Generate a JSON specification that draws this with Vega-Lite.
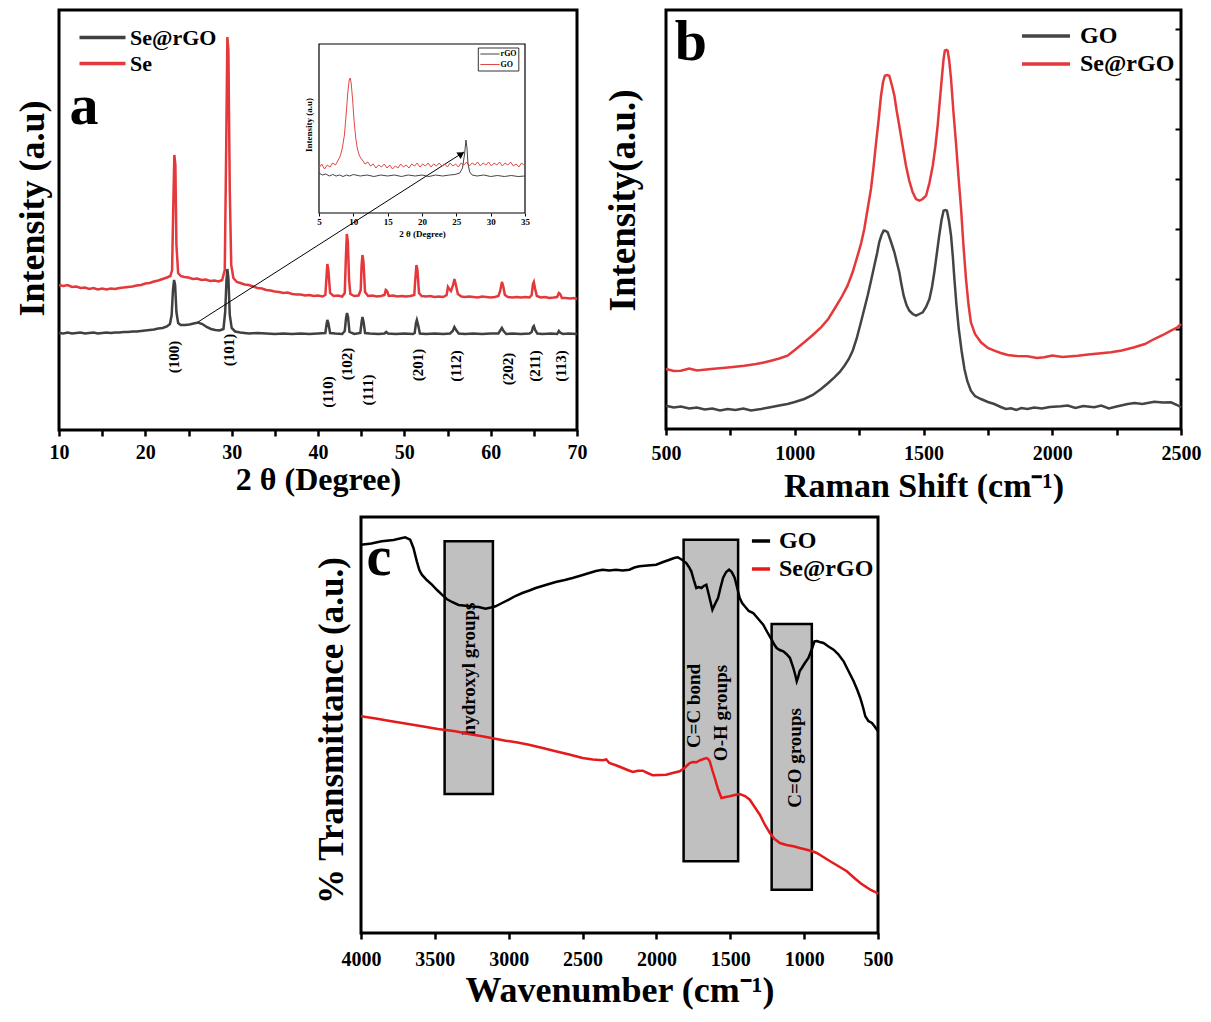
{
  "$schema": "https://vega.github.io/schema/vega-lite/v6.json",
  "padding": {"left": 12, "top": 8, "right": 5, "bottom": 2},
  "spacing": 10,
  "resolve": {"scale": {"color": "independent"}, "legend": {"color": "independent"}},
  "datasets": {
    "xrd": [
      {"theta":10,"intensity":145,"sample":"Se"},{"theta":10.5,"intensity":144,"sample":"Se"},{"theta":11,"intensity":145,"sample":"Se"},{"theta":11.5,"intensity":143,"sample":"Se"},{"theta":12,"intensity":143.5,"sample":"Se"},{"theta":12.5,"intensity":142,"sample":"Se"},{"theta":13,"intensity":142.5,"sample":"Se"},{"theta":13.5,"intensity":141,"sample":"Se"},{"theta":14,"intensity":142,"sample":"Se"},{"theta":14.5,"intensity":140.5,"sample":"Se"},{"theta":15,"intensity":141.5,"sample":"Se"},{"theta":15.5,"intensity":140.5,"sample":"Se"},{"theta":16,"intensity":141.5,"sample":"Se"},{"theta":16.5,"intensity":141,"sample":"Se"},{"theta":17,"intensity":142,"sample":"Se"},{"theta":17.5,"intensity":142.5,"sample":"Se"},{"theta":18,"intensity":143,"sample":"Se"},{"theta":18.5,"intensity":143.5,"sample":"Se"},{"theta":19,"intensity":144.5,"sample":"Se"},{"theta":19.5,"intensity":145,"sample":"Se"},{"theta":20,"intensity":146.5,"sample":"Se"},{"theta":20.5,"intensity":147,"sample":"Se"},{"theta":21,"intensity":148.5,"sample":"Se"},{"theta":21.5,"intensity":149.5,"sample":"Se"},{"theta":22,"intensity":151,"sample":"Se"},{"theta":22.5,"intensity":152.5,"sample":"Se"},{"theta":22.9,"intensity":154,"sample":"Se"},{"theta":23.1,"intensity":160,"sample":"Se"},{"theta":23.25,"intensity":230,"sample":"Se"},{"theta":23.36,"intensity":275,"sample":"Se"},{"theta":23.48,"intensity":265,"sample":"Se"},{"theta":23.6,"intensity":185,"sample":"Se"},{"theta":23.8,"intensity":157,"sample":"Se"},{"theta":24.1,"intensity":154,"sample":"Se"},{"theta":24.5,"intensity":153,"sample":"Se"},{"theta":25,"intensity":152.5,"sample":"Se"},{"theta":25.5,"intensity":151,"sample":"Se"},{"theta":26,"intensity":151.5,"sample":"Se"},{"theta":26.5,"intensity":150,"sample":"Se"},{"theta":27,"intensity":150.5,"sample":"Se"},{"theta":27.5,"intensity":149,"sample":"Se"},{"theta":28,"intensity":149.5,"sample":"Se"},{"theta":28.5,"intensity":148.5,"sample":"Se"},{"theta":28.9,"intensity":150,"sample":"Se"},{"theta":29.2,"intensity":160,"sample":"Se"},{"theta":29.35,"intensity":270,"sample":"Se"},{"theta":29.5,"intensity":393,"sample":"Se"},{"theta":29.62,"intensity":380,"sample":"Se"},{"theta":29.78,"intensity":240,"sample":"Se"},{"theta":29.95,"intensity":165,"sample":"Se"},{"theta":30.2,"intensity":152,"sample":"Se"},{"theta":30.6,"intensity":148,"sample":"Se"},{"theta":31,"intensity":147,"sample":"Se"},{"theta":31.5,"intensity":145.5,"sample":"Se"},{"theta":32,"intensity":145,"sample":"Se"},{"theta":32.5,"intensity":143.5,"sample":"Se"},{"theta":33,"intensity":142,"sample":"Se"},{"theta":33.5,"intensity":141.5,"sample":"Se"},{"theta":34,"intensity":140,"sample":"Se"},{"theta":34.5,"intensity":139.5,"sample":"Se"},{"theta":35,"intensity":138.5,"sample":"Se"},{"theta":35.5,"intensity":138,"sample":"Se"},{"theta":36,"intensity":137,"sample":"Se"},{"theta":36.5,"intensity":137.5,"sample":"Se"},{"theta":37,"intensity":136,"sample":"Se"},{"theta":37.5,"intensity":135.5,"sample":"Se"},{"theta":38,"intensity":135.5,"sample":"Se"},{"theta":38.5,"intensity":134.5,"sample":"Se"},{"theta":39,"intensity":135,"sample":"Se"},{"theta":39.5,"intensity":134,"sample":"Se"},{"theta":40,"intensity":134.5,"sample":"Se"},{"theta":40.5,"intensity":133.5,"sample":"Se"},{"theta":40.85,"intensity":135,"sample":"Se"},{"theta":41.0,"intensity":155,"sample":"Se"},{"theta":41.08,"intensity":166,"sample":"Se"},{"theta":41.2,"intensity":160,"sample":"Se"},{"theta":41.4,"intensity":137,"sample":"Se"},{"theta":41.8,"intensity":134,"sample":"Se"},{"theta":42.3,"intensity":134.5,"sample":"Se"},{"theta":42.8,"intensity":133.5,"sample":"Se"},{"theta":43.1,"intensity":137,"sample":"Se"},{"theta":43.22,"intensity":170,"sample":"Se"},{"theta":43.34,"intensity":196,"sample":"Se"},{"theta":43.46,"intensity":188,"sample":"Se"},{"theta":43.6,"intensity":150,"sample":"Se"},{"theta":43.75,"intensity":136,"sample":"Se"},{"theta":44.2,"intensity":134,"sample":"Se"},{"theta":44.7,"intensity":134.5,"sample":"Se"},{"theta":44.95,"intensity":140,"sample":"Se"},{"theta":45.05,"intensity":165,"sample":"Se"},{"theta":45.15,"intensity":175,"sample":"Se"},{"theta":45.27,"intensity":168,"sample":"Se"},{"theta":45.45,"intensity":138,"sample":"Se"},{"theta":45.8,"intensity":134,"sample":"Se"},{"theta":46.3,"intensity":134.5,"sample":"Se"},{"theta":46.8,"intensity":133.5,"sample":"Se"},{"theta":47.3,"intensity":134,"sample":"Se"},{"theta":47.7,"intensity":135,"sample":"Se"},{"theta":47.85,"intensity":140,"sample":"Se"},{"theta":48.0,"intensity":139,"sample":"Se"},{"theta":48.2,"intensity":134,"sample":"Se"},{"theta":48.7,"intensity":134.5,"sample":"Se"},{"theta":49.2,"intensity":133.5,"sample":"Se"},{"theta":49.7,"intensity":134,"sample":"Se"},{"theta":50.2,"intensity":133.5,"sample":"Se"},{"theta":50.7,"intensity":134,"sample":"Se"},{"theta":51.15,"intensity":135,"sample":"Se"},{"theta":51.28,"intensity":152,"sample":"Se"},{"theta":51.4,"intensity":165,"sample":"Se"},{"theta":51.52,"intensity":160,"sample":"Se"},{"theta":51.7,"intensity":137,"sample":"Se"},{"theta":52,"intensity":134,"sample":"Se"},{"theta":52.5,"intensity":133.5,"sample":"Se"},{"theta":53,"intensity":134,"sample":"Se"},{"theta":53.5,"intensity":133,"sample":"Se"},{"theta":54,"intensity":133.5,"sample":"Se"},{"theta":54.5,"intensity":133,"sample":"Se"},{"theta":54.9,"intensity":135,"sample":"Se"},{"theta":55.05,"intensity":143,"sample":"Se"},{"theta":55.2,"intensity":141,"sample":"Se"},{"theta":55.4,"intensity":139,"sample":"Se"},{"theta":55.65,"intensity":145,"sample":"Se"},{"theta":55.8,"intensity":151,"sample":"Se"},{"theta":55.95,"intensity":146,"sample":"Se"},{"theta":56.2,"intensity":136,"sample":"Se"},{"theta":56.6,"intensity":133.5,"sample":"Se"},{"theta":57,"intensity":133,"sample":"Se"},{"theta":57.5,"intensity":133.5,"sample":"Se"},{"theta":58,"intensity":133,"sample":"Se"},{"theta":58.5,"intensity":132.5,"sample":"Se"},{"theta":59,"intensity":133.5,"sample":"Se"},{"theta":59.5,"intensity":133,"sample":"Se"},{"theta":60,"intensity":132.5,"sample":"Se"},{"theta":60.5,"intensity":133,"sample":"Se"},{"theta":60.9,"intensity":134,"sample":"Se"},{"theta":61.1,"intensity":139,"sample":"Se"},{"theta":61.3,"intensity":148,"sample":"Se"},{"theta":61.45,"intensity":144,"sample":"Se"},{"theta":61.65,"intensity":135,"sample":"Se"},{"theta":62,"intensity":133,"sample":"Se"},{"theta":62.5,"intensity":132.5,"sample":"Se"},{"theta":63,"intensity":133,"sample":"Se"},{"theta":63.5,"intensity":132.5,"sample":"Se"},{"theta":64,"intensity":133,"sample":"Se"},{"theta":64.5,"intensity":132.5,"sample":"Se"},{"theta":64.75,"intensity":135,"sample":"Se"},{"theta":64.9,"intensity":146,"sample":"Se"},{"theta":65.0,"intensity":148,"sample":"Se"},{"theta":65.15,"intensity":141,"sample":"Se"},{"theta":65.35,"intensity":134,"sample":"Se"},{"theta":65.8,"intensity":132.5,"sample":"Se"},{"theta":66.3,"intensity":133,"sample":"Se"},{"theta":66.8,"intensity":132,"sample":"Se"},{"theta":67.3,"intensity":132.5,"sample":"Se"},{"theta":67.7,"intensity":133,"sample":"Se"},{"theta":67.9,"intensity":137,"sample":"Se"},{"theta":68.05,"intensity":136,"sample":"Se"},{"theta":68.25,"intensity":132,"sample":"Se"},{"theta":68.7,"intensity":132,"sample":"Se"},{"theta":69.2,"intensity":131.5,"sample":"Se"},{"theta":69.6,"intensity":132,"sample":"Se"},{"theta":70,"intensity":131,"sample":"Se"},
      {"theta":10,"intensity":97,"sample":"Se@rGO"},{"theta":10.5,"intensity":96.5,"sample":"Se@rGO"},{"theta":11,"intensity":97.5,"sample":"Se@rGO"},{"theta":11.5,"intensity":96.5,"sample":"Se@rGO"},{"theta":12,"intensity":97,"sample":"Se@rGO"},{"theta":12.5,"intensity":97.5,"sample":"Se@rGO"},{"theta":13,"intensity":96.5,"sample":"Se@rGO"},{"theta":13.5,"intensity":97,"sample":"Se@rGO"},{"theta":14,"intensity":97.5,"sample":"Se@rGO"},{"theta":14.5,"intensity":96.5,"sample":"Se@rGO"},{"theta":15,"intensity":97,"sample":"Se@rGO"},{"theta":15.5,"intensity":97.5,"sample":"Se@rGO"},{"theta":16,"intensity":97,"sample":"Se@rGO"},{"theta":16.5,"intensity":97.5,"sample":"Se@rGO"},{"theta":17,"intensity":97.5,"sample":"Se@rGO"},{"theta":17.5,"intensity":98,"sample":"Se@rGO"},{"theta":18,"intensity":98,"sample":"Se@rGO"},{"theta":18.5,"intensity":98.5,"sample":"Se@rGO"},{"theta":19,"intensity":98.5,"sample":"Se@rGO"},{"theta":19.5,"intensity":99,"sample":"Se@rGO"},{"theta":20,"intensity":99.5,"sample":"Se@rGO"},{"theta":20.5,"intensity":100,"sample":"Se@rGO"},{"theta":21,"intensity":100.5,"sample":"Se@rGO"},{"theta":21.5,"intensity":101.5,"sample":"Se@rGO"},{"theta":22,"intensity":102,"sample":"Se@rGO"},{"theta":22.5,"intensity":103.5,"sample":"Se@rGO"},{"theta":22.85,"intensity":106,"sample":"Se@rGO"},{"theta":23.05,"intensity":115,"sample":"Se@rGO"},{"theta":23.2,"intensity":140,"sample":"Se@rGO"},{"theta":23.33,"intensity":150,"sample":"Se@rGO"},{"theta":23.45,"intensity":145,"sample":"Se@rGO"},{"theta":23.6,"intensity":118,"sample":"Se@rGO"},{"theta":23.8,"intensity":107,"sample":"Se@rGO"},{"theta":24.1,"intensity":105,"sample":"Se@rGO"},{"theta":24.6,"intensity":105,"sample":"Se@rGO"},{"theta":25.1,"intensity":105.5,"sample":"Se@rGO"},{"theta":25.6,"intensity":106.5,"sample":"Se@rGO"},{"theta":26.1,"intensity":107.5,"sample":"Se@rGO"},{"theta":26.6,"intensity":106,"sample":"Se@rGO"},{"theta":27.1,"intensity":103,"sample":"Se@rGO"},{"theta":27.6,"intensity":101,"sample":"Se@rGO"},{"theta":28.1,"intensity":100,"sample":"Se@rGO"},{"theta":28.6,"intensity":99.5,"sample":"Se@rGO"},{"theta":29.05,"intensity":101,"sample":"Se@rGO"},{"theta":29.25,"intensity":118,"sample":"Se@rGO"},{"theta":29.4,"intensity":150,"sample":"Se@rGO"},{"theta":29.5,"intensity":161,"sample":"Se@rGO"},{"theta":29.62,"intensity":152,"sample":"Se@rGO"},{"theta":29.78,"intensity":115,"sample":"Se@rGO"},{"theta":30,"intensity":102,"sample":"Se@rGO"},{"theta":30.4,"intensity":98.5,"sample":"Se@rGO"},{"theta":31,"intensity":97.5,"sample":"Se@rGO"},{"theta":31.5,"intensity":97,"sample":"Se@rGO"},{"theta":32,"intensity":96.5,"sample":"Se@rGO"},{"theta":33,"intensity":97,"sample":"Se@rGO"},{"theta":34,"intensity":96.5,"sample":"Se@rGO"},{"theta":35,"intensity":96,"sample":"Se@rGO"},{"theta":36,"intensity":96.5,"sample":"Se@rGO"},{"theta":37,"intensity":96,"sample":"Se@rGO"},{"theta":38,"intensity":96.5,"sample":"Se@rGO"},{"theta":39,"intensity":96,"sample":"Se@rGO"},{"theta":40,"intensity":96.5,"sample":"Se@rGO"},{"theta":40.85,"intensity":97,"sample":"Se@rGO"},{"theta":41.0,"intensity":106,"sample":"Se@rGO"},{"theta":41.08,"intensity":110,"sample":"Se@rGO"},{"theta":41.2,"intensity":107,"sample":"Se@rGO"},{"theta":41.4,"intensity":97,"sample":"Se@rGO"},{"theta":42,"intensity":96.5,"sample":"Se@rGO"},{"theta":42.8,"intensity":96,"sample":"Se@rGO"},{"theta":43.1,"intensity":99,"sample":"Se@rGO"},{"theta":43.25,"intensity":112,"sample":"Se@rGO"},{"theta":43.36,"intensity":117,"sample":"Se@rGO"},{"theta":43.48,"intensity":113,"sample":"Se@rGO"},{"theta":43.65,"intensity":98,"sample":"Se@rGO"},{"theta":44.2,"intensity":96,"sample":"Se@rGO"},{"theta":44.9,"intensity":97,"sample":"Se@rGO"},{"theta":45.05,"intensity":108,"sample":"Se@rGO"},{"theta":45.15,"intensity":113,"sample":"Se@rGO"},{"theta":45.28,"intensity":108,"sample":"Se@rGO"},{"theta":45.45,"intensity":97,"sample":"Se@rGO"},{"theta":46,"intensity":96.5,"sample":"Se@rGO"},{"theta":47,"intensity":96,"sample":"Se@rGO"},{"theta":47.7,"intensity":96.5,"sample":"Se@rGO"},{"theta":47.9,"intensity":98,"sample":"Se@rGO"},{"theta":48.1,"intensity":96.5,"sample":"Se@rGO"},{"theta":49,"intensity":96,"sample":"Se@rGO"},{"theta":50,"intensity":96.5,"sample":"Se@rGO"},{"theta":51,"intensity":96,"sample":"Se@rGO"},{"theta":51.2,"intensity":97,"sample":"Se@rGO"},{"theta":51.35,"intensity":107,"sample":"Se@rGO"},{"theta":51.45,"intensity":110,"sample":"Se@rGO"},{"theta":51.6,"intensity":105,"sample":"Se@rGO"},{"theta":51.8,"intensity":96.5,"sample":"Se@rGO"},{"theta":52.5,"intensity":96,"sample":"Se@rGO"},{"theta":53.5,"intensity":96.5,"sample":"Se@rGO"},{"theta":54.5,"intensity":96,"sample":"Se@rGO"},{"theta":55.3,"intensity":96.5,"sample":"Se@rGO"},{"theta":55.6,"intensity":99,"sample":"Se@rGO"},{"theta":55.8,"intensity":103,"sample":"Se@rGO"},{"theta":56.0,"intensity":100,"sample":"Se@rGO"},{"theta":56.3,"intensity":96.5,"sample":"Se@rGO"},{"theta":57,"intensity":96,"sample":"Se@rGO"},{"theta":58,"intensity":96.5,"sample":"Se@rGO"},{"theta":59,"intensity":96,"sample":"Se@rGO"},{"theta":60,"intensity":96.5,"sample":"Se@rGO"},{"theta":60.9,"intensity":96.5,"sample":"Se@rGO"},{"theta":61.15,"intensity":100,"sample":"Se@rGO"},{"theta":61.3,"intensity":102,"sample":"Se@rGO"},{"theta":61.5,"intensity":99,"sample":"Se@rGO"},{"theta":61.8,"intensity":96,"sample":"Se@rGO"},{"theta":62.5,"intensity":96.5,"sample":"Se@rGO"},{"theta":63.5,"intensity":96,"sample":"Se@rGO"},{"theta":64.5,"intensity":96.5,"sample":"Se@rGO"},{"theta":64.75,"intensity":98,"sample":"Se@rGO"},{"theta":64.9,"intensity":103,"sample":"Se@rGO"},{"theta":65.0,"intensity":104,"sample":"Se@rGO"},{"theta":65.15,"intensity":100,"sample":"Se@rGO"},{"theta":65.4,"intensity":96.5,"sample":"Se@rGO"},{"theta":66,"intensity":96,"sample":"Se@rGO"},{"theta":67,"intensity":96.5,"sample":"Se@rGO"},{"theta":67.7,"intensity":96,"sample":"Se@rGO"},{"theta":67.9,"intensity":99,"sample":"Se@rGO"},{"theta":68.1,"intensity":97,"sample":"Se@rGO"},{"theta":68.4,"intensity":96,"sample":"Se@rGO"},{"theta":69,"intensity":96.5,"sample":"Se@rGO"},{"theta":70,"intensity":96,"sample":"Se@rGO"}
    ],
    "hkl": [
      {"theta":23.3,"intensity":73,"label":"(100)"},{"theta":29.7,"intensity":80,"label":"(101)"},{"theta":41.16,"intensity":38,"label":"(110)"},{"theta":43.36,"intensity":66,"label":"(102)"},{"theta":45.79,"intensity":40,"label":"(111)"},{"theta":51.58,"intensity":65,"label":"(201)"},{"theta":55.98,"intensity":64,"label":"(112)"},{"theta":62.0,"intensity":61,"label":"(202)"},{"theta":65.1,"intensity":64,"label":"(211)"},{"theta":68.15,"intensity":64,"label":"(113)"}
    ],
    "inset": [
      {"theta":5,"intensity":262,"sample":"GO"},{"theta":5.4,"intensity":266,"sample":"GO"},{"theta":5.8,"intensity":261,"sample":"GO"},{"theta":6.2,"intensity":265,"sample":"GO"},{"theta":6.6,"intensity":263,"sample":"GO"},{"theta":7,"intensity":267,"sample":"GO"},{"theta":7.4,"intensity":265,"sample":"GO"},{"theta":7.8,"intensity":270,"sample":"GO"},{"theta":8.1,"intensity":274,"sample":"GO"},{"theta":8.4,"intensity":282,"sample":"GO"},{"theta":8.7,"intensity":295,"sample":"GO"},{"theta":8.95,"intensity":315,"sample":"GO"},{"theta":9.2,"intensity":338,"sample":"GO"},{"theta":9.4,"intensity":350,"sample":"GO"},{"theta":9.55,"intensity":352,"sample":"GO"},{"theta":9.7,"intensity":346,"sample":"GO"},{"theta":9.9,"intensity":330,"sample":"GO"},{"theta":10.1,"intensity":310,"sample":"GO"},{"theta":10.35,"intensity":292,"sample":"GO"},{"theta":10.6,"intensity":281,"sample":"GO"},{"theta":10.9,"intensity":274,"sample":"GO"},{"theta":11.3,"intensity":270,"sample":"GO"},{"theta":11.7,"intensity":266,"sample":"GO"},{"theta":12.1,"intensity":268,"sample":"GO"},{"theta":12.5,"intensity":264,"sample":"GO"},{"theta":12.9,"intensity":266,"sample":"GO"},{"theta":13.3,"intensity":262,"sample":"GO"},{"theta":13.7,"intensity":265,"sample":"GO"},{"theta":14.1,"intensity":263,"sample":"GO"},{"theta":14.5,"intensity":266,"sample":"GO"},{"theta":14.9,"intensity":262,"sample":"GO"},{"theta":15.3,"intensity":265,"sample":"GO"},{"theta":15.7,"intensity":261,"sample":"GO"},{"theta":16.1,"intensity":264,"sample":"GO"},{"theta":16.5,"intensity":262,"sample":"GO"},{"theta":16.9,"intensity":266,"sample":"GO"},{"theta":17.3,"intensity":263,"sample":"GO"},{"theta":17.7,"intensity":265,"sample":"GO"},{"theta":18.1,"intensity":262,"sample":"GO"},{"theta":18.5,"intensity":266,"sample":"GO"},{"theta":18.9,"intensity":264,"sample":"GO"},{"theta":19.3,"intensity":267,"sample":"GO"},{"theta":19.7,"intensity":263,"sample":"GO"},{"theta":20.1,"intensity":266,"sample":"GO"},{"theta":20.5,"intensity":264,"sample":"GO"},{"theta":20.9,"intensity":267,"sample":"GO"},{"theta":21.3,"intensity":263,"sample":"GO"},{"theta":21.7,"intensity":266,"sample":"GO"},{"theta":22.1,"intensity":264,"sample":"GO"},{"theta":22.5,"intensity":267,"sample":"GO"},{"theta":22.9,"intensity":264,"sample":"GO"},{"theta":23.3,"intensity":266,"sample":"GO"},{"theta":23.7,"intensity":263,"sample":"GO"},{"theta":24.1,"intensity":267,"sample":"GO"},{"theta":24.5,"intensity":264,"sample":"GO"},{"theta":24.9,"intensity":266,"sample":"GO"},{"theta":25.3,"intensity":263,"sample":"GO"},{"theta":25.7,"intensity":267,"sample":"GO"},{"theta":26.1,"intensity":265,"sample":"GO"},{"theta":26.5,"intensity":268,"sample":"GO"},{"theta":26.9,"intensity":264,"sample":"GO"},{"theta":27.3,"intensity":267,"sample":"GO"},{"theta":27.7,"intensity":265,"sample":"GO"},{"theta":28.1,"intensity":268,"sample":"GO"},{"theta":28.5,"intensity":264,"sample":"GO"},{"theta":28.9,"intensity":267,"sample":"GO"},{"theta":29.3,"intensity":265,"sample":"GO"},{"theta":29.7,"intensity":268,"sample":"GO"},{"theta":30.1,"intensity":264,"sample":"GO"},{"theta":30.5,"intensity":267,"sample":"GO"},{"theta":30.9,"intensity":265,"sample":"GO"},{"theta":31.3,"intensity":268,"sample":"GO"},{"theta":31.7,"intensity":264,"sample":"GO"},{"theta":32.1,"intensity":267,"sample":"GO"},{"theta":32.5,"intensity":265,"sample":"GO"},{"theta":32.9,"intensity":268,"sample":"GO"},{"theta":33.3,"intensity":264,"sample":"GO"},{"theta":33.7,"intensity":266,"sample":"GO"},{"theta":34.1,"intensity":263,"sample":"GO"},{"theta":34.5,"intensity":267,"sample":"GO"},{"theta":35,"intensity":264,"sample":"GO"},
      {"theta":5,"intensity":257,"sample":"rGO"},{"theta":5.5,"intensity":255,"sample":"rGO"},{"theta":6,"intensity":256,"sample":"rGO"},{"theta":6.5,"intensity":254,"sample":"rGO"},{"theta":7,"intensity":255.5,"sample":"rGO"},{"theta":7.5,"intensity":254,"sample":"rGO"},{"theta":8,"intensity":255,"sample":"rGO"},{"theta":8.5,"intensity":253.5,"sample":"rGO"},{"theta":9,"intensity":255,"sample":"rGO"},{"theta":9.5,"intensity":254,"sample":"rGO"},{"theta":10,"intensity":255.5,"sample":"rGO"},{"theta":11,"intensity":254,"sample":"rGO"},{"theta":12,"intensity":255,"sample":"rGO"},{"theta":13,"intensity":253.5,"sample":"rGO"},{"theta":14,"intensity":255,"sample":"rGO"},{"theta":15,"intensity":254,"sample":"rGO"},{"theta":16,"intensity":255,"sample":"rGO"},{"theta":17,"intensity":253.5,"sample":"rGO"},{"theta":18,"intensity":255,"sample":"rGO"},{"theta":19,"intensity":254,"sample":"rGO"},{"theta":20,"intensity":255,"sample":"rGO"},{"theta":21,"intensity":253.5,"sample":"rGO"},{"theta":22,"intensity":255,"sample":"rGO"},{"theta":23,"intensity":254,"sample":"rGO"},{"theta":24,"intensity":255,"sample":"rGO"},{"theta":24.8,"intensity":255.5,"sample":"rGO"},{"theta":25.5,"intensity":257,"sample":"rGO"},{"theta":25.9,"intensity":262,"sample":"rGO"},{"theta":26.2,"intensity":276,"sample":"rGO"},{"theta":26.4,"intensity":290,"sample":"rGO"},{"theta":26.55,"intensity":282,"sample":"rGO"},{"theta":26.7,"intensity":266,"sample":"rGO"},{"theta":26.95,"intensity":258,"sample":"rGO"},{"theta":27.3,"intensity":255,"sample":"rGO"},{"theta":28,"intensity":254,"sample":"rGO"},{"theta":29,"intensity":255,"sample":"rGO"},{"theta":30,"intensity":253.5,"sample":"rGO"},{"theta":31,"intensity":254.5,"sample":"rGO"},{"theta":32,"intensity":253.5,"sample":"rGO"},{"theta":33,"intensity":254.5,"sample":"rGO"},{"theta":34,"intensity":253.5,"sample":"rGO"},{"theta":35,"intensity":254,"sample":"rGO"}
    ],
    "inset_legend": [
      {"theta":28.5,"theta2":31.3,"intensity":376,"sample":"rGO"},
      {"theta":28.5,"theta2":31.3,"intensity":365.5,"sample":"GO"}
    ],
    "raman": [
      {"shift":500,"intensity":23.3,"sample":"GO"},{"shift":530,"intensity":21.5,"sample":"GO"},{"shift":558,"intensity":22.5,"sample":"GO"},{"shift":590,"intensity":20.5,"sample":"GO"},{"shift":620,"intensity":21.5,"sample":"GO"},{"shift":650,"intensity":19.5,"sample":"GO"},{"shift":680,"intensity":20.5,"sample":"GO"},{"shift":710,"intensity":18.5,"sample":"GO"},{"shift":739,"intensity":20,"sample":"GO"},{"shift":770,"intensity":19,"sample":"GO"},{"shift":800,"intensity":20.5,"sample":"GO"},{"shift":830,"intensity":18.5,"sample":"GO"},{"shift":869,"intensity":20,"sample":"GO"},{"shift":900,"intensity":21.5,"sample":"GO"},{"shift":930,"intensity":23,"sample":"GO"},{"shift":950,"intensity":24,"sample":"GO"},{"shift":972,"intensity":25,"sample":"GO"},{"shift":1000,"intensity":27,"sample":"GO"},{"shift":1037,"intensity":30,"sample":"GO"},{"shift":1070,"intensity":34,"sample":"GO"},{"shift":1102,"intensity":40,"sample":"GO"},{"shift":1130,"intensity":46,"sample":"GO"},{"shift":1154,"intensity":51.7,"sample":"GO"},{"shift":1175,"intensity":57,"sample":"GO"},{"shift":1193,"intensity":63.3,"sample":"GO"},{"shift":1210,"intensity":70,"sample":"GO"},{"shift":1225,"intensity":78.3,"sample":"GO"},{"shift":1240,"intensity":90,"sample":"GO"},{"shift":1257,"intensity":106.7,"sample":"GO"},{"shift":1270,"intensity":120,"sample":"GO"},{"shift":1283,"intensity":133.3,"sample":"GO"},{"shift":1296,"intensity":148,"sample":"GO"},{"shift":1309,"intensity":163.3,"sample":"GO"},{"shift":1320,"intensity":176,"sample":"GO"},{"shift":1328,"intensity":186.7,"sample":"GO"},{"shift":1337,"intensity":194,"sample":"GO"},{"shift":1345,"intensity":198.3,"sample":"GO"},{"shift":1353,"intensity":198,"sample":"GO"},{"shift":1361,"intensity":196.7,"sample":"GO"},{"shift":1374,"intensity":187,"sample":"GO"},{"shift":1387,"intensity":176.7,"sample":"GO"},{"shift":1397,"intensity":166,"sample":"GO"},{"shift":1406,"intensity":156.7,"sample":"GO"},{"shift":1414,"intensity":145,"sample":"GO"},{"shift":1423,"intensity":133.3,"sample":"GO"},{"shift":1434,"intensity":124,"sample":"GO"},{"shift":1445,"intensity":118.3,"sample":"GO"},{"shift":1458,"intensity":115,"sample":"GO"},{"shift":1471,"intensity":113.3,"sample":"GO"},{"shift":1484,"intensity":115,"sample":"GO"},{"shift":1497,"intensity":116.7,"sample":"GO"},{"shift":1510,"intensity":122,"sample":"GO"},{"shift":1523,"intensity":130,"sample":"GO"},{"shift":1533,"intensity":142,"sample":"GO"},{"shift":1542,"intensity":156.7,"sample":"GO"},{"shift":1552,"intensity":176,"sample":"GO"},{"shift":1561,"intensity":193.3,"sample":"GO"},{"shift":1570,"intensity":209,"sample":"GO"},{"shift":1578,"intensity":218.3,"sample":"GO"},{"shift":1585,"intensity":219,"sample":"GO"},{"shift":1591,"intensity":218.3,"sample":"GO"},{"shift":1599,"intensity":208,"sample":"GO"},{"shift":1607,"intensity":193.3,"sample":"GO"},{"shift":1614,"intensity":172,"sample":"GO"},{"shift":1620,"intensity":150,"sample":"GO"},{"shift":1628,"intensity":124,"sample":"GO"},{"shift":1637,"intensity":100,"sample":"GO"},{"shift":1648,"intensity":78,"sample":"GO"},{"shift":1659,"intensity":60,"sample":"GO"},{"shift":1670,"intensity":48,"sample":"GO"},{"shift":1684,"intensity":38.3,"sample":"GO"},{"shift":1700,"intensity":33,"sample":"GO"},{"shift":1723,"intensity":30,"sample":"GO"},{"shift":1750,"intensity":27,"sample":"GO"},{"shift":1775,"intensity":25,"sample":"GO"},{"shift":1800,"intensity":22,"sample":"GO"},{"shift":1820,"intensity":20,"sample":"GO"},{"shift":1840,"intensity":20.7,"sample":"GO"},{"shift":1860,"intensity":19,"sample":"GO"},{"shift":1880,"intensity":21,"sample":"GO"},{"shift":1904,"intensity":20,"sample":"GO"},{"shift":1930,"intensity":21.5,"sample":"GO"},{"shift":1960,"intensity":20.5,"sample":"GO"},{"shift":1990,"intensity":22,"sample":"GO"},{"shift":2034,"intensity":22.7,"sample":"GO"},{"shift":2060,"intensity":23.5,"sample":"GO"},{"shift":2090,"intensity":21,"sample":"GO"},{"shift":2120,"intensity":23,"sample":"GO"},{"shift":2163,"intensity":21.7,"sample":"GO"},{"shift":2190,"intensity":23.5,"sample":"GO"},{"shift":2220,"intensity":20.5,"sample":"GO"},{"shift":2250,"intensity":22.5,"sample":"GO"},{"shift":2293,"intensity":25,"sample":"GO"},{"shift":2320,"intensity":26,"sample":"GO"},{"shift":2350,"intensity":25,"sample":"GO"},{"shift":2396,"intensity":27.3,"sample":"GO"},{"shift":2430,"intensity":26.5,"sample":"GO"},{"shift":2461,"intensity":26.7,"sample":"GO"},{"shift":2485,"intensity":24,"sample":"GO"},{"shift":2500,"intensity":21.7,"sample":"GO"},
      {"shift":500,"intensity":60,"sample":"Se@rGO"},{"shift":530,"intensity":58,"sample":"Se@rGO"},{"shift":558,"intensity":58.3,"sample":"Se@rGO"},{"shift":590,"intensity":60.5,"sample":"Se@rGO"},{"shift":620,"intensity":58.5,"sample":"Se@rGO"},{"shift":675,"intensity":60,"sample":"Se@rGO"},{"shift":720,"intensity":61,"sample":"Se@rGO"},{"shift":760,"intensity":62,"sample":"Se@rGO"},{"shift":804,"intensity":63.3,"sample":"Se@rGO"},{"shift":850,"intensity":65,"sample":"Se@rGO"},{"shift":880,"intensity":66.5,"sample":"Se@rGO"},{"shift":908,"intensity":68.3,"sample":"Se@rGO"},{"shift":940,"intensity":70.5,"sample":"Se@rGO"},{"shift":972,"intensity":73.3,"sample":"Se@rGO"},{"shift":1005,"intensity":80,"sample":"Se@rGO"},{"shift":1037,"intensity":86.7,"sample":"Se@rGO"},{"shift":1070,"intensity":94,"sample":"Se@rGO"},{"shift":1102,"intensity":101.7,"sample":"Se@rGO"},{"shift":1130,"intensity":110,"sample":"Se@rGO"},{"shift":1154,"intensity":120,"sample":"Se@rGO"},{"shift":1180,"intensity":131,"sample":"Se@rGO"},{"shift":1205,"intensity":143.3,"sample":"Se@rGO"},{"shift":1225,"intensity":157,"sample":"Se@rGO"},{"shift":1244,"intensity":173.3,"sample":"Se@rGO"},{"shift":1258,"intensity":186,"sample":"Se@rGO"},{"shift":1270,"intensity":200,"sample":"Se@rGO"},{"shift":1283,"intensity":220,"sample":"Se@rGO"},{"shift":1296,"intensity":240,"sample":"Se@rGO"},{"shift":1306,"intensity":262,"sample":"Se@rGO"},{"shift":1316,"intensity":286.7,"sample":"Se@rGO"},{"shift":1326,"intensity":310,"sample":"Se@rGO"},{"shift":1335,"intensity":333.3,"sample":"Se@rGO"},{"shift":1343,"intensity":347,"sample":"Se@rGO"},{"shift":1350,"intensity":353.3,"sample":"Se@rGO"},{"shift":1358,"intensity":354,"sample":"Se@rGO"},{"shift":1367,"intensity":353.3,"sample":"Se@rGO"},{"shift":1377,"intensity":344,"sample":"Se@rGO"},{"shift":1387,"intensity":333.3,"sample":"Se@rGO"},{"shift":1396,"intensity":318,"sample":"Se@rGO"},{"shift":1406,"intensity":303.3,"sample":"Se@rGO"},{"shift":1419,"intensity":283,"sample":"Se@rGO"},{"shift":1432,"intensity":263.3,"sample":"Se@rGO"},{"shift":1445,"intensity":248,"sample":"Se@rGO"},{"shift":1458,"intensity":236.7,"sample":"Se@rGO"},{"shift":1471,"intensity":230,"sample":"Se@rGO"},{"shift":1484,"intensity":228.3,"sample":"Se@rGO"},{"shift":1497,"intensity":230,"sample":"Se@rGO"},{"shift":1510,"intensity":233.3,"sample":"Se@rGO"},{"shift":1523,"intensity":246,"sample":"Se@rGO"},{"shift":1536,"intensity":263.3,"sample":"Se@rGO"},{"shift":1546,"intensity":282,"sample":"Se@rGO"},{"shift":1555,"intensity":303.3,"sample":"Se@rGO"},{"shift":1564,"intensity":330,"sample":"Se@rGO"},{"shift":1572,"intensity":353.3,"sample":"Se@rGO"},{"shift":1578,"intensity":370,"sample":"Se@rGO"},{"shift":1583,"intensity":378.3,"sample":"Se@rGO"},{"shift":1589,"intensity":379,"sample":"Se@rGO"},{"shift":1594,"intensity":378.3,"sample":"Se@rGO"},{"shift":1600,"intensity":368,"sample":"Se@rGO"},{"shift":1607,"intensity":350,"sample":"Se@rGO"},{"shift":1616,"intensity":318,"sample":"Se@rGO"},{"shift":1626,"intensity":286.7,"sample":"Se@rGO"},{"shift":1636,"intensity":252,"sample":"Se@rGO"},{"shift":1646,"intensity":220,"sample":"Se@rGO"},{"shift":1655,"intensity":184,"sample":"Se@rGO"},{"shift":1665,"intensity":150,"sample":"Se@rGO"},{"shift":1675,"intensity":124,"sample":"Se@rGO"},{"shift":1684,"intensity":106.7,"sample":"Se@rGO"},{"shift":1700,"intensity":95,"sample":"Se@rGO"},{"shift":1723,"intensity":86.7,"sample":"Se@rGO"},{"shift":1750,"intensity":81,"sample":"Se@rGO"},{"shift":1775,"intensity":78.3,"sample":"Se@rGO"},{"shift":1800,"intensity":76,"sample":"Se@rGO"},{"shift":1827,"intensity":74,"sample":"Se@rGO"},{"shift":1860,"intensity":73,"sample":"Se@rGO"},{"shift":1904,"intensity":72.7,"sample":"Se@rGO"},{"shift":1940,"intensity":71,"sample":"Se@rGO"},{"shift":1969,"intensity":71.7,"sample":"Se@rGO"},{"shift":2000,"intensity":73.5,"sample":"Se@rGO"},{"shift":2040,"intensity":72,"sample":"Se@rGO"},{"shift":2099,"intensity":73.3,"sample":"Se@rGO"},{"shift":2140,"intensity":74.5,"sample":"Se@rGO"},{"shift":2180,"intensity":75.5,"sample":"Se@rGO"},{"shift":2228,"intensity":76.7,"sample":"Se@rGO"},{"shift":2270,"intensity":78.5,"sample":"Se@rGO"},{"shift":2319,"intensity":81.7,"sample":"Se@rGO"},{"shift":2360,"intensity":85,"sample":"Se@rGO"},{"shift":2396,"intensity":90,"sample":"Se@rGO"},{"shift":2430,"intensity":94,"sample":"Se@rGO"},{"shift":2461,"intensity":98.3,"sample":"Se@rGO"},{"shift":2485,"intensity":101.5,"sample":"Se@rGO"},{"shift":2500,"intensity":105,"sample":"Se@rGO"}
    ],
    "ftir": [
      {"wn":4000,"t":388.3,"sample":"GO"},{"wn":3930,"t":389.5,"sample":"GO"},{"wn":3860,"t":391.7,"sample":"GO"},{"wn":3780,"t":393,"sample":"GO"},{"wn":3701,"t":395.7,"sample":"GO"},{"wn":3667,"t":393.3,"sample":"GO"},{"wn":3645,"t":385,"sample":"GO"},{"wn":3622,"t":371.7,"sample":"GO"},{"wn":3605,"t":363,"sample":"GO"},{"wn":3588,"t":358.3,"sample":"GO"},{"wn":3555,"t":353,"sample":"GO"},{"wn":3520,"t":348.3,"sample":"GO"},{"wn":3485,"t":343,"sample":"GO"},{"wn":3452,"t":338.3,"sample":"GO"},{"wn":3420,"t":334,"sample":"GO"},{"wn":3384,"t":331,"sample":"GO"},{"wn":3340,"t":328,"sample":"GO"},{"wn":3293,"t":327.3,"sample":"GO"},{"wn":3250,"t":326.5,"sample":"GO"},{"wn":3203,"t":326,"sample":"GO"},{"wn":3157,"t":324.3,"sample":"GO"},{"wn":3120,"t":325.5,"sample":"GO"},{"wn":3089,"t":326.7,"sample":"GO"},{"wn":3045,"t":330,"sample":"GO"},{"wn":2999,"t":333.3,"sample":"GO"},{"wn":2955,"t":337,"sample":"GO"},{"wn":2908,"t":340,"sample":"GO"},{"wn":2860,"t":342.5,"sample":"GO"},{"wn":2817,"t":345,"sample":"GO"},{"wn":2750,"t":348,"sample":"GO"},{"wn":2682,"t":351,"sample":"GO"},{"wn":2620,"t":353,"sample":"GO"},{"wn":2568,"t":355,"sample":"GO"},{"wn":2510,"t":357.5,"sample":"GO"},{"wn":2455,"t":360,"sample":"GO"},{"wn":2410,"t":362,"sample":"GO"},{"wn":2364,"t":363.3,"sample":"GO"},{"wn":2320,"t":362.5,"sample":"GO"},{"wn":2274,"t":363.3,"sample":"GO"},{"wn":2230,"t":362.5,"sample":"GO"},{"wn":2183,"t":363.3,"sample":"GO"},{"wn":2150,"t":365.5,"sample":"GO"},{"wn":2115,"t":366.7,"sample":"GO"},{"wn":2060,"t":367.5,"sample":"GO"},{"wn":2002,"t":368.3,"sample":"GO"},{"wn":1955,"t":371,"sample":"GO"},{"wn":1911,"t":373.3,"sample":"GO"},{"wn":1880,"t":375,"sample":"GO"},{"wn":1855,"t":375.7,"sample":"GO"},{"wn":1825,"t":373,"sample":"GO"},{"wn":1798,"t":370,"sample":"GO"},{"wn":1780,"t":366,"sample":"GO"},{"wn":1764,"t":361.7,"sample":"GO"},{"wn":1747,"t":353,"sample":"GO"},{"wn":1730,"t":345,"sample":"GO"},{"wn":1713,"t":346,"sample":"GO"},{"wn":1696,"t":345,"sample":"GO"},{"wn":1680,"t":347,"sample":"GO"},{"wn":1662,"t":348.3,"sample":"GO"},{"wn":1645,"t":338,"sample":"GO"},{"wn":1621,"t":323.3,"sample":"GO"},{"wn":1600,"t":330,"sample":"GO"},{"wn":1583,"t":335,"sample":"GO"},{"wn":1565,"t":346,"sample":"GO"},{"wn":1549,"t":355,"sample":"GO"},{"wn":1528,"t":361,"sample":"GO"},{"wn":1508,"t":363.3,"sample":"GO"},{"wn":1490,"t":361,"sample":"GO"},{"wn":1470,"t":355,"sample":"GO"},{"wn":1453,"t":345,"sample":"GO"},{"wn":1436,"t":335,"sample":"GO"},{"wn":1420,"t":330,"sample":"GO"},{"wn":1402,"t":326.7,"sample":"GO"},{"wn":1375,"t":322,"sample":"GO"},{"wn":1345,"t":320,"sample":"GO"},{"wn":1310,"t":314,"sample":"GO"},{"wn":1277,"t":308.3,"sample":"GO"},{"wn":1250,"t":301,"sample":"GO"},{"wn":1220,"t":293.3,"sample":"GO"},{"wn":1200,"t":288,"sample":"GO"},{"wn":1186,"t":285,"sample":"GO"},{"wn":1165,"t":283,"sample":"GO"},{"wn":1141,"t":281.7,"sample":"GO"},{"wn":1120,"t":279,"sample":"GO"},{"wn":1096,"t":275,"sample":"GO"},{"wn":1075,"t":266,"sample":"GO"},{"wn":1060,"t":258,"sample":"GO"},{"wn":1050,"t":251.7,"sample":"GO"},{"wn":1040,"t":256,"sample":"GO"},{"wn":1030,"t":262,"sample":"GO"},{"wn":1016,"t":265,"sample":"GO"},{"wn":995,"t":270,"sample":"GO"},{"wn":971,"t":275,"sample":"GO"},{"wn":950,"t":283,"sample":"GO"},{"wn":930,"t":291.7,"sample":"GO"},{"wn":915,"t":292,"sample":"GO"},{"wn":895,"t":291,"sample":"GO"},{"wn":869,"t":290,"sample":"GO"},{"wn":835,"t":286.5,"sample":"GO"},{"wn":801,"t":283.3,"sample":"GO"},{"wn":770,"t":279,"sample":"GO"},{"wn":733,"t":271.7,"sample":"GO"},{"wn":700,"t":262,"sample":"GO"},{"wn":665,"t":251.7,"sample":"GO"},{"wn":640,"t":243,"sample":"GO"},{"wn":620,"t":235,"sample":"GO"},{"wn":600,"t":225,"sample":"GO"},{"wn":586,"t":216.7,"sample":"GO"},{"wn":565,"t":212,"sample":"GO"},{"wn":541,"t":210,"sample":"GO"},{"wn":525,"t":207,"sample":"GO"},{"wn":507,"t":203.3,"sample":"GO"},{"wn":500,"t":202,"sample":"GO"},
      {"wn":4000,"t":216.7,"sample":"Se@rGO"},{"wn":3900,"t":214.5,"sample":"Se@rGO"},{"wn":3814,"t":212.3,"sample":"Se@rGO"},{"wn":3700,"t":209.5,"sample":"Se@rGO"},{"wn":3588,"t":206.7,"sample":"Se@rGO"},{"wn":3480,"t":204,"sample":"Se@rGO"},{"wn":3361,"t":201.7,"sample":"Se@rGO"},{"wn":3270,"t":199,"sample":"Se@rGO"},{"wn":3180,"t":196.7,"sample":"Se@rGO"},{"wn":3100,"t":194.5,"sample":"Se@rGO"},{"wn":3021,"t":192.3,"sample":"Se@rGO"},{"wn":2940,"t":190.5,"sample":"Se@rGO"},{"wn":2863,"t":188.3,"sample":"Se@rGO"},{"wn":2770,"t":185,"sample":"Se@rGO"},{"wn":2682,"t":181.7,"sample":"Se@rGO"},{"wn":2590,"t":178.5,"sample":"Se@rGO"},{"wn":2500,"t":175,"sample":"Se@rGO"},{"wn":2430,"t":173.5,"sample":"Se@rGO"},{"wn":2364,"t":172.7,"sample":"Se@rGO"},{"wn":2340,"t":173.5,"sample":"Se@rGO"},{"wn":2319,"t":170,"sample":"Se@rGO"},{"wn":2270,"t":167.5,"sample":"Se@rGO"},{"wn":2228,"t":165,"sample":"Se@rGO"},{"wn":2195,"t":163,"sample":"Se@rGO"},{"wn":2160,"t":161,"sample":"Se@rGO"},{"wn":2125,"t":162.3,"sample":"Se@rGO"},{"wn":2093,"t":162.3,"sample":"Se@rGO"},{"wn":2060,"t":160,"sample":"Se@rGO"},{"wn":2025,"t":157.7,"sample":"Se@rGO"},{"wn":1980,"t":158,"sample":"Se@rGO"},{"wn":1934,"t":158.3,"sample":"Se@rGO"},{"wn":1890,"t":160,"sample":"Se@rGO"},{"wn":1843,"t":161.7,"sample":"Se@rGO"},{"wn":1810,"t":165,"sample":"Se@rGO"},{"wn":1775,"t":170,"sample":"Se@rGO"},{"wn":1752,"t":171,"sample":"Se@rGO"},{"wn":1730,"t":170.7,"sample":"Se@rGO"},{"wn":1700,"t":173,"sample":"Se@rGO"},{"wn":1662,"t":175,"sample":"Se@rGO"},{"wn":1650,"t":174,"sample":"Se@rGO"},{"wn":1639,"t":171.7,"sample":"Se@rGO"},{"wn":1622,"t":163,"sample":"Se@rGO"},{"wn":1605,"t":155,"sample":"Se@rGO"},{"wn":1583,"t":144,"sample":"Se@rGO"},{"wn":1560,"t":135,"sample":"Se@rGO"},{"wn":1530,"t":136,"sample":"Se@rGO"},{"wn":1504,"t":136.7,"sample":"Se@rGO"},{"wn":1470,"t":138,"sample":"Se@rGO"},{"wn":1436,"t":139,"sample":"Se@rGO"},{"wn":1400,"t":137,"sample":"Se@rGO"},{"wn":1368,"t":133.3,"sample":"Se@rGO"},{"wn":1335,"t":126,"sample":"Se@rGO"},{"wn":1300,"t":118.3,"sample":"Se@rGO"},{"wn":1265,"t":108,"sample":"Se@rGO"},{"wn":1232,"t":100,"sample":"Se@rGO"},{"wn":1200,"t":94,"sample":"Se@rGO"},{"wn":1164,"t":90,"sample":"Se@rGO"},{"wn":1120,"t":88,"sample":"Se@rGO"},{"wn":1073,"t":86.7,"sample":"Se@rGO"},{"wn":1030,"t":85,"sample":"Se@rGO"},{"wn":982,"t":83.3,"sample":"Se@rGO"},{"wn":950,"t":82,"sample":"Se@rGO"},{"wn":915,"t":80,"sample":"Se@rGO"},{"wn":870,"t":76,"sample":"Se@rGO"},{"wn":824,"t":71.7,"sample":"Se@rGO"},{"wn":770,"t":67,"sample":"Se@rGO"},{"wn":711,"t":61.7,"sample":"Se@rGO"},{"wn":660,"t":55,"sample":"Se@rGO"},{"wn":620,"t":50,"sample":"Se@rGO"},{"wn":585,"t":46.5,"sample":"Se@rGO"},{"wn":552,"t":43.3,"sample":"Se@rGO"},{"wn":525,"t":41.5,"sample":"Se@rGO"},{"wn":507,"t":40,"sample":"Se@rGO"},{"wn":500,"t":39,"sample":"Se@rGO"}
    ],
    "boxes": [
      {"wn":3434,"wn2":3107,"t":139,"t2":391.7},
      {"wn":1816,"wn2":1447,"t":71.7,"t2":393.3},
      {"wn":1220,"wn2":948,"t":43.3,"t2":309}
    ],
    "boxlabels": [
      {"wn":3270,"t":264,"label":"hydroxyl groups"},
      {"wn":1748,"t":227,"label":"C=C bond"},
      {"wn":1560,"t":220,"label":"O-H groups"},
      {"wn":1062,"t":175,"label":"C=O groups"}
    ]
  },
  "vconcat": [
    {
      "spacing": 13,
      "resolve": {"scale": {"color": "independent"}, "legend": {"color": "independent"}},
      "hconcat": [
        {
          "width": 518,
          "height": 420,
          "resolve": {"scale": {"x": "independent"}, "axis": {"x": "independent"}},
          "layer": [
            {
              "layer": [
                {
                  "data": {"name": "xrd"},
                  "mark": {"type": "line", "strokeWidth": 2.5},
                  "encoding": {
                    "x": {"field": "theta", "type": "quantitative", "scale": {"domain": [10, 70], "nice": false, "zero": false},
                      "axis": {"title": "2 θ (Degree)", "titleFontSize": 32, "values": [10,15,20,25,30,35,40,45,50,55,60,65,70], "labelExpr": "datum.value % 10 === 0 ? '' + datum.value : ''", "labelPadding": 6, "titlePadding": 2}},
                    "y": {"field": "intensity", "type": "quantitative", "scale": {"domain": [0, 420], "nice": false, "zero": false},
                      "axis": {"title": "Intensity (a.u)", "labels": false, "ticks": false, "titleFontSize": 36, "titlePadding": 8, "titleY": 198}},
                    "color": {"field": "sample", "type": "nominal", "scale": {"domain": ["Se@rGO", "Se"], "range": ["#404040", "#e5383b"]},
                      "legend": {"orient": "none", "legendX": 30, "legendY": 14, "title": null, "symbolType": "M-2,0H2", "symbolSize": 529, "symbolStrokeWidth": 3.5, "symbolFillColor": "transparent", "labelFontSize": 22, "labelFont": "Liberation Serif", "labelFontWeight": "bold", "labelColor": "black", "rowPadding": 1, "labelOffset": 14}}
                  }
                },
                {
                  "data": {"name": "hkl"},
                  "mark": {"type": "text", "angle": 270, "fontSize": 15, "fontWeight": "bold", "font": "Liberation Serif", "fill": "black", "align": "center", "baseline": "middle"},
                  "encoding": {
                    "x": {"field": "theta", "type": "quantitative", "scale": {"domain": [10, 70], "nice": false, "zero": false}},
                    "y": {"field": "intensity", "type": "quantitative", "scale": {"domain": [0, 420], "nice": false, "zero": false}},
                    "text": {"field": "label"}
                  }
                },
                {
                  "data": {"values": [{"theta": 12.9, "intensity": 306, "label": "a"}]},
                  "mark": {"type": "text", "fontSize": 58, "fontWeight": "bold", "font": "Liberation Serif", "fill": "black", "align": "center", "baseline": "alphabetic"},
                  "encoding": {
                    "x": {"field": "theta", "type": "quantitative", "scale": {"domain": [10, 70], "nice": false, "zero": false}},
                    "y": {"field": "intensity", "type": "quantitative", "scale": {"domain": [0, 420], "nice": false, "zero": false}},
                    "text": {"field": "label"}
                  }
                },
                {
                  "data": {"values": [{"theta": 26.1, "intensity": 108, "theta2": 56.9, "intensity2": 278}]},
                  "mark": {"type": "rule", "color": "black", "strokeWidth": 1},
                  "encoding": {
                    "x": {"field": "theta", "type": "quantitative", "scale": {"domain": [10, 70], "nice": false, "zero": false}},
                    "y": {"field": "intensity", "type": "quantitative", "scale": {"domain": [0, 420], "nice": false, "zero": false}},
                    "x2": {"field": "theta2"},
                    "y2": {"field": "intensity2"}
                  }
                },
                {
                  "data": {"values": [{"theta": 56.6, "intensity": 276}]},
                  "mark": {"type": "point", "shape": "triangle-right", "filled": true, "color": "black", "size": 60, "angle": 327, "opacity": 1},
                  "encoding": {
                    "x": {"field": "theta", "type": "quantitative", "scale": {"domain": [10, 70], "nice": false, "zero": false}},
                    "y": {"field": "intensity", "type": "quantitative", "scale": {"domain": [0, 420], "nice": false, "zero": false}}
                  }
                }
              ]
            },
            {
              "layer": [
                {
                  "data": {"values": [{"theta": 5, "theta2": 35, "intensity": 217, "intensity2": 386}]},
                  "mark": {"type": "rect", "filled": false, "stroke": "black", "strokeWidth": 1.2},
                  "encoding": {
                    "x": {"field": "theta", "type": "quantitative", "scale": {"domain": [5, 35], "range": [260, 466], "nice": false, "zero": false},
                      "axis": {"orient": "bottom", "offset": -217, "title": "2 θ (Degree)", "titleFontSize": 9, "titlePadding": 3, "labelFontSize": 9, "labelPadding": 1, "tickSize": 3, "tickWidth": 1, "values": [5,10,15,20,25,30,35], "labelExpr": "'' + datum.value"}},
                    "x2": {"field": "theta2"},
                    "y": {"field": "intensity", "type": "quantitative", "scale": {"domain": [0, 420], "nice": false, "zero": false}},
                    "y2": {"field": "intensity2"}
                  }
                },
                {
                  "data": {"name": "inset"},
                  "transform": [{"filter": "datum.sample === 'GO'"}],
                  "mark": {"type": "line", "strokeWidth": 1, "color": "#e04848"},
                  "encoding": {
                    "x": {"field": "theta", "type": "quantitative", "scale": {"domain": [5, 35], "range": [260, 466], "nice": false, "zero": false}},
                    "y": {"field": "intensity", "type": "quantitative", "scale": {"domain": [0, 420], "nice": false, "zero": false}}
                  }
                },
                {
                  "data": {"name": "inset"},
                  "transform": [{"filter": "datum.sample === 'rGO'"}],
                  "mark": {"type": "line", "strokeWidth": 1, "color": "#454545"},
                  "encoding": {
                    "x": {"field": "theta", "type": "quantitative", "scale": {"domain": [5, 35], "range": [260, 466], "nice": false, "zero": false}},
                    "y": {"field": "intensity", "type": "quantitative", "scale": {"domain": [0, 420], "nice": false, "zero": false}}
                  }
                },
                {
                  "data": {"values": [{"theta": 28.2, "theta2": 34.1, "intensity": 359, "intensity2": 382}]},
                  "mark": {"type": "rect", "filled": false, "stroke": "black", "strokeWidth": 0.8},
                  "encoding": {
                    "x": {"field": "theta", "type": "quantitative", "scale": {"domain": [5, 35], "range": [260, 466], "nice": false, "zero": false}},
                    "x2": {"field": "theta2"},
                    "y": {"field": "intensity", "type": "quantitative", "scale": {"domain": [0, 420], "nice": false, "zero": false}},
                    "y2": {"field": "intensity2"}
                  }
                },
                {
                  "data": {"name": "inset_legend"},
                  "mark": {"type": "rule", "strokeWidth": 1},
                  "encoding": {
                    "x": {"field": "theta", "type": "quantitative", "scale": {"domain": [5, 35], "range": [260, 466], "nice": false, "zero": false}},
                    "x2": {"field": "theta2"},
                    "y": {"field": "intensity", "type": "quantitative", "scale": {"domain": [0, 420], "nice": false, "zero": false}},
                    "stroke": {"field": "sample", "type": "nominal", "scale": {"domain": ["rGO", "GO"], "range": ["#454545", "#e04848"]}, "legend": null}
                  }
                },
                {
                  "data": {"name": "inset_legend"},
                  "mark": {"type": "text", "fontSize": 8, "fontWeight": "bold", "font": "Liberation Serif", "fill": "black", "align": "left", "baseline": "middle", "dx": 1},
                  "encoding": {
                    "x": {"field": "theta2", "type": "quantitative", "scale": {"domain": [5, 35], "range": [260, 466], "nice": false, "zero": false}},
                    "y": {"field": "intensity", "type": "quantitative", "scale": {"domain": [0, 420], "nice": false, "zero": false}},
                    "text": {"field": "sample"}
                  }
                },
                {
                  "data": {"values": [{"theta": 3.5, "intensity": 305, "label": "Intensity (a.u)"}]},
                  "mark": {"type": "text", "angle": 270, "fontSize": 9, "fontWeight": "bold", "font": "Liberation Serif", "fill": "black", "align": "center", "baseline": "middle"},
                  "encoding": {
                    "x": {"field": "theta", "type": "quantitative", "scale": {"domain": [5, 35], "range": [260, 466], "nice": false, "zero": false}},
                    "y": {"field": "intensity", "type": "quantitative", "scale": {"domain": [0, 420], "nice": false, "zero": false}},
                    "text": {"field": "label"}
                  }
                }
              ]
            }
          ]
        },
        {
          "width": 515,
          "height": 419,
          "resolve": {"axis": {"y": "independent"}},
          "layer": [
            {
              "data": {"name": "raman"},
              "mark": {"type": "line", "strokeWidth": 2.5},
              "encoding": {
                "x": {"field": "shift", "type": "quantitative", "scale": {"domain": [500, 2500], "nice": false, "zero": false},
                  "axis": {"title": "Raman Shift (cm⁻¹)", "titleFontSize": 34, "values": [500,750,1000,1250,1500,1750,2000,2250,2500], "labelExpr": "datum.value % 500 === 0 ? '' + datum.value : ''", "labelPadding": 8, "titlePadding": 6}},
                "y": {"field": "intensity", "type": "quantitative", "scale": {"domain": [0, 419], "nice": false, "zero": false},
                  "axis": {"orient": "left", "title": "Intensity(a.u.)", "labels": false, "ticks": false, "titleFontSize": 37, "titlePadding": 24, "titleY": 190}},
                "color": {"field": "sample", "type": "nominal", "scale": {"domain": ["GO", "Se@rGO"], "range": ["#444444", "#e5383b"]},
                  "legend": {"orient": "none", "legendX": 366, "legendY": 12, "title": null, "symbolType": "M-2,0H2", "symbolSize": 576, "symbolStrokeWidth": 3.5, "symbolFillColor": "transparent", "labelFontSize": 24, "labelFont": "Liberation Serif", "labelFontWeight": "bold", "labelColor": "black", "rowPadding": 2, "labelOffset": 20}}
              }
            },
            {
              "data": {"values": [{"shift": 597, "intensity": 369, "label": "b"}]},
              "mark": {"type": "text", "fontSize": 58, "fontWeight": "bold", "font": "Liberation Serif", "fill": "black", "align": "center", "baseline": "alphabetic"},
              "encoding": {
                "x": {"field": "shift", "type": "quantitative", "scale": {"domain": [500, 2500], "nice": false, "zero": false}},
                "y": {"field": "intensity", "type": "quantitative", "scale": {"domain": [0, 419], "nice": false, "zero": false},
                  "axis": {"orient": "right", "title": null, "labels": false, "tickSize": -6, "tickWidth": 2, "values": [50, 100, 150, 200, 250, 300, 350, 400]}},
                "text": {"field": "label"}
              }
            }
          ]
        }
      ]
    },
    {
      "spacing": 0,
      "resolve": {"scale": {"color": "independent"}, "legend": {"color": "independent"}},
      "hconcat": [
        {
          "width": 252,
          "height": 10,
          "view": {"stroke": "transparent"},
          "data": {"values": []},
          "mark": {"type": "rule"},
          "encoding": {}
        },
        {
          "width": 517,
          "height": 416,
          "layer": [
            {
              "data": {"name": "boxes"},
              "mark": {"type": "rect", "fill": "#c0c0c0", "stroke": "black", "strokeWidth": 2.5},
              "encoding": {
                "x": {"field": "wn", "type": "quantitative", "scale": {"domain": [4000, 500], "nice": false, "zero": false}},
                "x2": {"field": "wn2"},
                "y": {"field": "t", "type": "quantitative", "scale": {"domain": [0, 416], "nice": false, "zero": false}},
                "y2": {"field": "t2"}
              }
            },
            {
              "data": {"name": "boxlabels"},
              "mark": {"type": "text", "angle": 270, "fontSize": 19, "fontWeight": "bold", "font": "Liberation Serif", "fill": "black", "align": "center", "baseline": "middle"},
              "encoding": {
                "x": {"field": "wn", "type": "quantitative", "scale": {"domain": [4000, 500], "nice": false, "zero": false}},
                "y": {"field": "t", "type": "quantitative", "scale": {"domain": [0, 416], "nice": false, "zero": false}},
                "text": {"field": "label"}
              }
            },
            {
              "data": {"name": "ftir"},
              "mark": {"type": "line", "strokeWidth": 2.5},
              "encoding": {
                "x": {"field": "wn", "type": "quantitative", "scale": {"domain": [4000, 500], "nice": false, "zero": false},
                  "axis": {"title": "Wavenumber (cm⁻¹)", "titleFontSize": 36, "values": [4000,3750,3500,3250,3000,2750,2500,2250,2000,1750,1500,1250,1000,750,500], "labelExpr": "datum.value % 500 === 0 ? '' + datum.value : ''", "labelPadding": 10, "titlePadding": 4}},
                "y": {"field": "t", "type": "quantitative", "scale": {"domain": [0, 416], "nice": false, "zero": false},
                  "axis": {"title": "% Transmittance (a.u.)", "labels": false, "ticks": false, "titleFontSize": 35, "titlePadding": 12, "titleY": 213}},
                "color": {"field": "sample", "type": "nominal", "scale": {"domain": ["GO", "Se@rGO"], "range": ["#000000", "#e41a1c"]},
                  "legend": {"orient": "none", "legendX": 388, "legendY": 12, "title": null, "symbolType": "stroke", "symbolSize": 330, "symbolStrokeWidth": 3.5, "labelFontSize": 24, "labelFont": "Liberation Serif", "labelFontWeight": "bold", "labelColor": "black", "rowPadding": 4, "labelOffset": 6}}
              }
            },
            {
              "data": {"values": [{"wn": 3878, "t": 358, "label": "c"}]},
              "mark": {"type": "text", "fontSize": 56, "fontWeight": "bold", "font": "Liberation Serif", "fill": "black", "align": "center", "baseline": "alphabetic"},
              "encoding": {
                "x": {"field": "wn", "type": "quantitative", "scale": {"domain": [4000, 500], "nice": false, "zero": false}},
                "y": {"field": "t", "type": "quantitative", "scale": {"domain": [0, 416], "nice": false, "zero": false}},
                "text": {"field": "label"}
              }
            }
          ]
        }
      ]
    }
  ],
  "config": {
    "view": {"stroke": "black", "strokeWidth": 3},
    "font": "Liberation Serif",
    "axis": {"labelFont": "Liberation Serif", "labelFontWeight": "bold", "labelFontSize": 20, "labelColor": "black", "titleFont": "Liberation Serif", "titleFontWeight": "bold", "titleColor": "black", "domain": false, "grid": false, "tickColor": "black", "tickWidth": 2.5, "tickSize": 6, "labelFlush": false, "labelOverlap": false},
    "legend": {"labelFont": "Liberation Serif", "labelFontWeight": "bold", "labelColor": "black"}
  }
}
